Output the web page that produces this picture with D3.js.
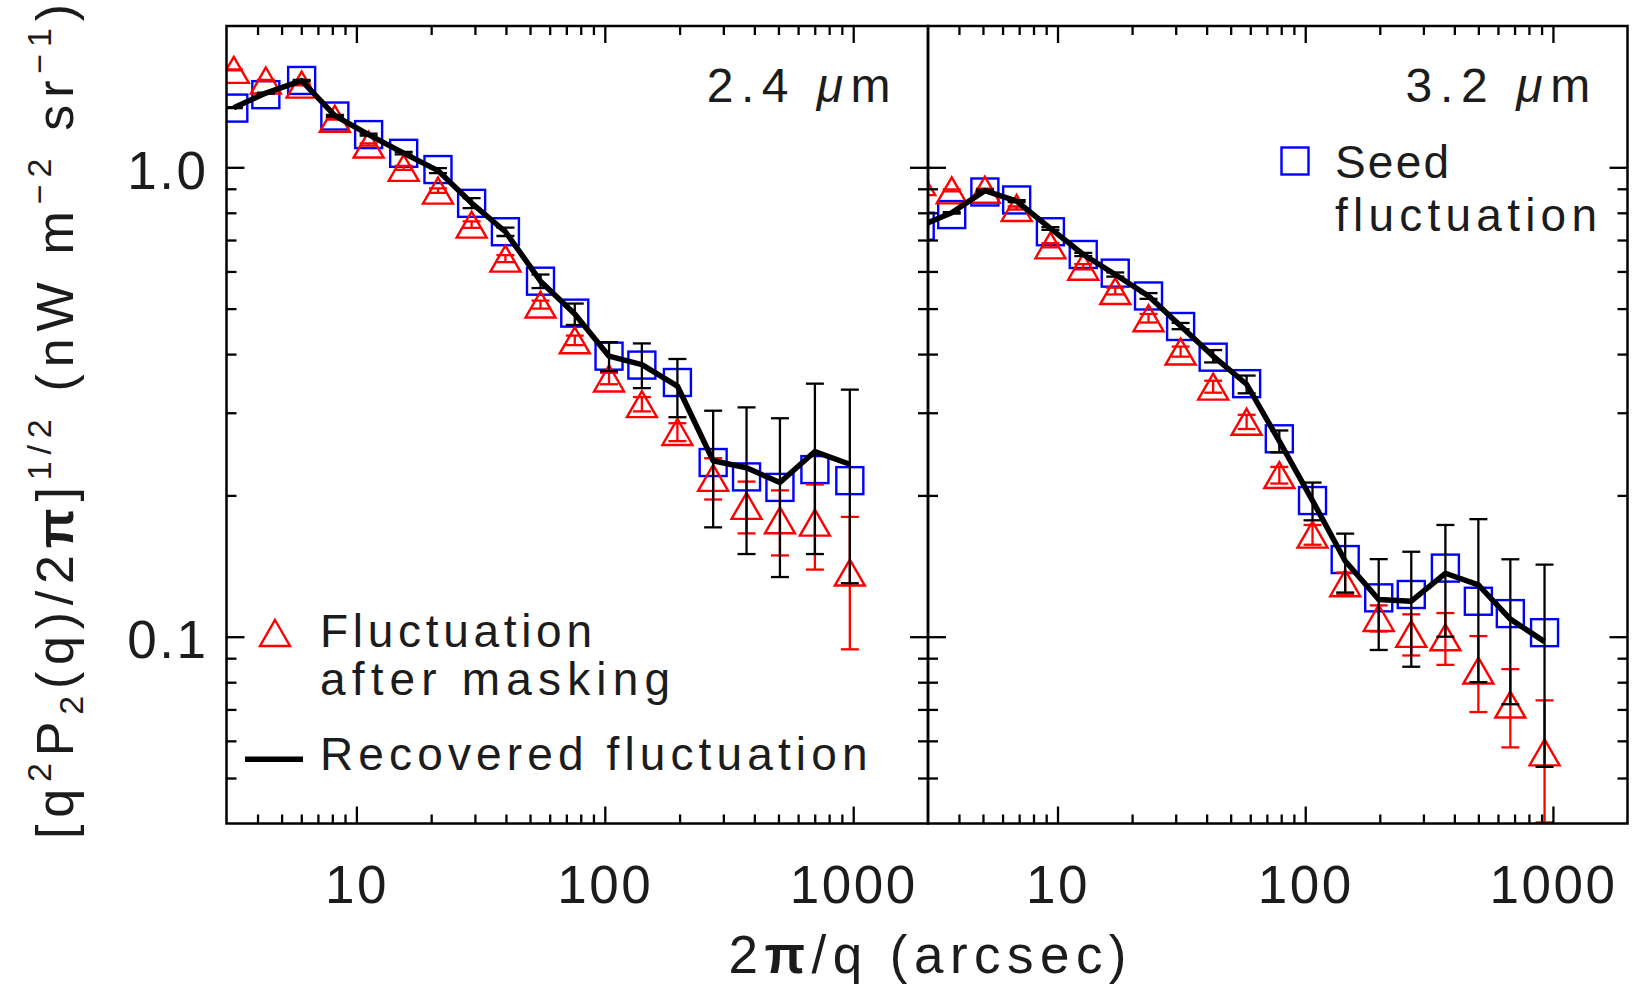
<!DOCTYPE html>
<html>
<head>
<meta charset="utf-8">
<script src="https://cdn.jsdelivr.net/npm/d3@7"></script>
<style>
  html, body { margin: 0; padding: 0; background: #fff; }
  svg { display: block; }
  text { font-family: "Liberation Sans", Arial, sans-serif; fill: #1c1c1c; }
</style>
</head>
<body>
<svg id="chart" width="1635" height="987"></svg>
<script>
// ---- 2.4 um band ----
const SCALE_24 = [3.21, 4.32, 6.02, 8.19, 11.2, 15.5, 21.3, 29.1, 39.8, 55.1, 75.7, 104, 141, 196, 273, 372, 507, 701, 969];
const SEED_24 = [1.337, 1.428, 1.531, 1.286, 1.174, 1.071, 0.989, 0.838, 0.729, 0.572, 0.489, 0.396, 0.379, 0.348, 0.235, 0.219, 0.208, 0.227, 0.215];
const MASKED_24 = [1.613, 1.531, 1.50, 1.269, 1.118, 0.997, 0.892, 0.755, 0.639, 0.510, 0.428, 0.355, 0.313, 0.273, 0.218, 0.190, 0.177, 0.175, 0.137];
const MASKED_ERR_24 = [0.004, 0.004, 0.005, 0.005, 0.006, 0.010, 0.010, 0.012, 0.011, 0.010, 0.010, 0.010, 0.011, 0.012, 0.022, 0.024, 0.028, 0.036, 0.043];
const RECOVERED_24 = [1.34, 1.439, 1.53, 1.288, 1.174, 1.072, 0.984, 0.839, 0.729, 0.572, 0.487, 0.396, 0.380, 0.342, 0.237, 0.229, 0.213, 0.248, 0.233];
const RECOVERED_ERR_24 = [0.003, 0.004, 0.005, 0.005, 0.006, 0.007, 0.012, 0.0205, 0.015, 0.019, 0.0255, 0.028, 0.0415, 0.0485, 0.066, 0.079, 0.079, 0.098, 0.103];

// ---- 3.2 um band ----
const SCALE_32 = [2.79, 3.74, 5.09, 6.84, 9.36, 12.7, 17.1, 23.3, 31.4, 42.5, 58.0, 78.6, 107, 145, 198, 268, 368, 500, 673, 925];
const SEED_32 = [0.749, 0.793, 0.886, 0.852, 0.729, 0.652, 0.595, 0.532, 0.458, 0.394, 0.346, 0.264, 0.195, 0.146, 0.121, 0.123, 0.140, 0.119, 0.112, 0.102];
const MASKED_32 = [0.93, 0.893, 0.896, 0.819, 0.682, 0.614, 0.545, 0.477, 0.405, 0.341, 0.287, 0.221, 0.165, 0.130, 0.1096, 0.1014, 0.0997, 0.0847, 0.0717, 0.0567];
const MASKED_ERR_32 = [0.004, 0.004, 0.005, 0.006, 0.007, 0.008, 0.009, 0.010, 0.010, 0.010, 0.010, 0.009, 0.008, 0.007, 0.007, 0.0102, 0.0126, 0.0156, 0.0136, 0.0165];
const RECOVERED_32 = [0.75, 0.80, 0.892, 0.847, 0.741, 0.652, 0.591, 0.532, 0.459, 0.396, 0.345, 0.261, 0.195, 0.145, 0.120, 0.119, 0.1365, 0.129, 0.109, 0.0976];
const RECOVERED_ERR_32 = [0.003, 0.003, 0.004, 0.004, 0.005, 0.005, 0.006, 0.0075, 0.007, 0.012, 0.015, 0.014, 0.018, 0.0208, 0.0263, 0.0327, 0.0365, 0.049, 0.0372, 0.0448];

// ---- axes ----
const X_DOMAIN = [3, 2000];
const Y_DOMAIN = [0.04, 2.0];
const X_MAJOR = [10, 100, 1000];
const X_TICK_LABELS = ["10", "100", "1000"];
const X_MINOR = [4, 5, 6, 7, 8, 9, 20, 30, 40, 50, 60, 70, 80, 90, 200, 300, 400, 500, 600, 700, 800, 900];
const Y_MAJOR = [0.1, 1.0];
const Y_TICK_LABELS = ["0.1", "1.0"];
const Y_MINOR = [0.05, 0.06, 0.07, 0.08, 0.09, 0.2, 0.3, 0.4, 0.5, 0.6, 0.7, 0.8, 0.9];

const BAND_LABELS = ["2.4", "3.2"];
const LEGEND_MASKED = ["Fluctuation", "after masking"];
const LEGEND_RECOVERED = "Recovered fluctuation";
const LEGEND_SEED = ["Seed", "fluctuation"];

// ---- layout ----
const plotTop = 26, plotBottom = 823.5;
const RED = "#ff0000", BLUE = "#0000ff", BLACK = "#000";
const FONT = '"Liberation Sans", Arial, sans-serif';

const svg = d3.select("#chart");
const y = d3.scaleLog().domain(Y_DOMAIN).range([plotBottom, plotTop]);

const triPath = "M0,-13L15,13L-15,13Z";
const SQ = 27;

const panels = [
  { left: 226.5, right: 928, scales: SCALE_24, seed: SEED_24, masked: MASKED_24, maskedErr: MASKED_ERR_24,
    rec: RECOVERED_24, recErr: RECOVERED_ERR_24, band: BAND_LABELS[0], labelX: 706.8, labelLen: 183.6, yLabels: true },
  { left: 928, right: 1627.5, scales: SCALE_32, seed: SEED_32, masked: MASKED_32, maskedErr: MASKED_ERR_32,
    rec: RECOVERED_32, recErr: RECOVERED_ERR_32, band: BAND_LABELS[1], labelX: 1405.6, labelLen: 184.7, yLabels: false }
];

// vertical error bars with caps at both ends
function errorBars(g, x, xs, vals, errs, color) {
  const capW = 9;
  const items = xs.map((d, i) => ({ x: d, lo: Math.max(vals[i] - errs[i], 1e-4), hi: vals[i] + errs[i] }));
  const eg = g.append("g").attr("stroke", color).attr("stroke-width", 2.3).attr("fill", "none");
  eg.selectAll("line.v").data(items).join("line").attr("class", "v")
    .attr("x1", d => x(d.x)).attr("x2", d => x(d.x))
    .attr("y1", d => y(d.lo)).attr("y2", d => y(d.hi));
  eg.selectAll("line.ct").data(items).join("line").attr("class", "ct")
    .attr("x1", d => x(d.x) - capW).attr("x2", d => x(d.x) + capW)
    .attr("y1", d => y(d.hi)).attr("y2", d => y(d.hi));
  eg.selectAll("line.cb").data(items).join("line").attr("class", "cb")
    .attr("x1", d => x(d.x) - capW).attr("x2", d => x(d.x) + capW)
    .attr("y1", d => y(d.lo)).attr("y2", d => y(d.lo));
}

// inward-pointing tick marks without labels
function tickSet(g, axisFn, scale, values, size, translate) {
  const ag = g.append("g").attr("transform", translate)
    .call(axisFn(scale).tickValues(values).tickSize(-size).tickFormat(""));
  ag.select(".domain").remove();
  ag.selectAll("line").attr("stroke", BLACK).attr("stroke-width", 2.3);
  ag.selectAll("text").remove();
}

panels.forEach((p, pi) => {
  const x = d3.scaleLog().domain(X_DOMAIN).range([p.left, p.right]);
  const g = svg.append("g");
  const clipId = "clip" + pi;
  svg.append("clipPath").attr("id", clipId).append("rect")
    .attr("x", p.left).attr("y", plotTop).attr("width", p.right - p.left).attr("height", plotBottom - plotTop);
  const body = g.append("g").attr("clip-path", `url(#${clipId})`);

  // seed fluctuation: open blue squares
  body.append("g").selectAll("rect").data(p.scales).join("rect")
    .attr("x", d => x(d) - SQ / 2).attr("y", (d, i) => y(p.seed[i]) - SQ / 2)
    .attr("width", SQ).attr("height", SQ)
    .attr("fill", "none").attr("stroke", BLUE).attr("stroke-width", 2.4);

  // fluctuation after masking: red triangles with error bars
  errorBars(body, x, p.scales, p.masked, p.maskedErr, RED);
  body.append("g").selectAll("path").data(p.scales).join("path")
    .attr("d", triPath)
    .attr("transform", (d, i) => `translate(${x(d)},${y(p.masked[i])})`)
    .attr("fill", "none").attr("stroke", RED).attr("stroke-width", 2.4).attr("stroke-linejoin", "miter");

  // recovered fluctuation: black line with error bars
  errorBars(body, x, p.scales, p.rec, p.recErr, BLACK);
  body.append("path")
    .datum(p.scales.map((d, i) => [d, p.rec[i]]))
    .attr("d", d3.line().x(d => x(d[0])).y(d => y(d[1])))
    .attr("fill", "none").attr("stroke", BLACK).attr("stroke-width", 5.5)
    .attr("stroke-linejoin", "round");

  // frame
  g.append("rect").attr("x", p.left).attr("y", plotTop)
    .attr("width", p.right - p.left).attr("height", plotBottom - plotTop)
    .attr("fill", "none").attr("stroke", BLACK).attr("stroke-width", 2.5);

  // ticks on all four sides
  tickSet(g, d3.axisBottom, x, X_MAJOR, 17, `translate(0,${plotBottom})`);
  tickSet(g, d3.axisBottom, x, X_MINOR, 9, `translate(0,${plotBottom})`);
  tickSet(g, d3.axisTop, x, X_MAJOR, 17, `translate(0,${plotTop})`);
  tickSet(g, d3.axisTop, x, X_MINOR, 9, `translate(0,${plotTop})`);
  tickSet(g, d3.axisLeft, y, Y_MAJOR, 18, `translate(${p.left},0)`);
  tickSet(g, d3.axisLeft, y, Y_MINOR, 10, `translate(${p.left},0)`);
  tickSet(g, d3.axisRight, y, Y_MAJOR, 18, `translate(${p.right},0)`);
  tickSet(g, d3.axisRight, y, Y_MINOR, 10, `translate(${p.right},0)`);

  // x tick labels
  const xl = g.append("g").attr("transform", `translate(0,${plotBottom})`)
    .call(d3.axisBottom(x).tickValues(X_MAJOR).tickSize(0).tickFormat((d, i) => X_TICK_LABELS[i]));
  xl.select(".domain").remove();
  xl.selectAll("line").remove();
  xl.selectAll("text").attr("y", 79.5).attr("dy", null)
    .attr("font-size", 53).attr("letter-spacing", 2.5)
    .style("font-family", FONT).attr("fill", "#1c1c1c");

  // y tick labels (left panel only)
  if (p.yLabels) {
    const yl = g.append("g").attr("transform", `translate(${p.left},0)`)
      .call(d3.axisLeft(y).tickValues(Y_MAJOR).tickSize(0).tickPadding(18)
        .tickFormat((d, i) => Y_TICK_LABELS[i]));
    yl.select(".domain").remove();
    yl.selectAll("line").remove();
    yl.selectAll("text").attr("dy", "0.4em")
      .attr("font-size", 53).attr("letter-spacing", 2.5)
      .style("font-family", FONT).attr("fill", "#1c1c1c");
  }

  // band label
  const bl = g.append("text").attr("x", p.labelX).attr("y", 101.7)
    .attr("font-size", 48).attr("textLength", p.labelLen).attr("lengthAdjust", "spacing");
  bl.append("tspan").text(p.band + " ");
  bl.append("tspan").attr("font-style", "italic").text("\u03bc");
  bl.append("tspan").text("m");
});

// ---- legends ----
svg.append("path").attr("d", triPath).attr("transform", "translate(275,633)")
  .attr("fill", "none").attr("stroke", RED).attr("stroke-width", 2.4);
svg.append("text").attr("x", 320).attr("y", 646.7).attr("font-size", 46)
  .attr("textLength", 272).attr("lengthAdjust", "spacing").text(LEGEND_MASKED[0]);
svg.append("text").attr("x", 320).attr("y", 695).attr("font-size", 46)
  .attr("textLength", 350).attr("lengthAdjust", "spacing").text(LEGEND_MASKED[1]);
svg.append("line").attr("x1", 245).attr("x2", 303).attr("y1", 759.3).attr("y2", 759.3)
  .attr("stroke", BLACK).attr("stroke-width", 5.5);
svg.append("text").attr("x", 320).attr("y", 770).attr("font-size", 46)
  .attr("textLength", 547.5).attr("lengthAdjust", "spacing").text(LEGEND_RECOVERED);

svg.append("rect").attr("x", 1295 - SQ / 2).attr("y", 161 - SQ / 2).attr("width", SQ).attr("height", SQ)
  .attr("fill", "none").attr("stroke", BLUE).attr("stroke-width", 2.4);
svg.append("text").attr("x", 1335).attr("y", 178.3).attr("font-size", 46)
  .attr("textLength", 114).attr("lengthAdjust", "spacing").text(LEGEND_SEED[0]);
svg.append("text").attr("x", 1335).attr("y", 230.7).attr("font-size", 46)
  .attr("textLength", 262).attr("lengthAdjust", "spacing").text(LEGEND_SEED[1]);

// ---- axis titles ----
const xt = svg.append("text").attr("x", 927.5).attr("y", 973).attr("text-anchor", "middle")
  .attr("font-size", 53).attr("textLength", 398).attr("lengthAdjust", "spacing");
xt.append("tspan").text("2");
xt.append("tspan").attr("font-weight", "bold").text("\u03c0");
xt.append("tspan").text("/q (arcsec)");

const yt = svg.append("text").attr("transform", "translate(73,421.5) rotate(-90)")
  .attr("text-anchor", "middle").attr("font-size", 52)
  .attr("textLength", 835).attr("lengthAdjust", "spacing");
yt.append("tspan").text("[q");
yt.append("tspan").attr("font-size", 34).attr("dy", -22).text("2");
yt.append("tspan").attr("dy", 22).text("P");
yt.append("tspan").attr("font-size", 34).attr("dy", 10).text("2");
yt.append("tspan").attr("dy", -10).text("(q)/2");
yt.append("tspan").attr("font-weight", "bold").text("\u03c0");
yt.append("tspan").text("]");
yt.append("tspan").attr("font-size", 34).attr("dy", -22).text("1/2");
yt.append("tspan").attr("dy", 22).text(" (nW m");
yt.append("tspan").attr("font-size", 34).attr("dy", -22).text("\u22122");
yt.append("tspan").attr("dy", 22).text(" sr");
yt.append("tspan").attr("font-size", 34).attr("dy", -22).text("\u22121");
yt.append("tspan").attr("dy", 22).text(")");
</script>
</body>
</html>
